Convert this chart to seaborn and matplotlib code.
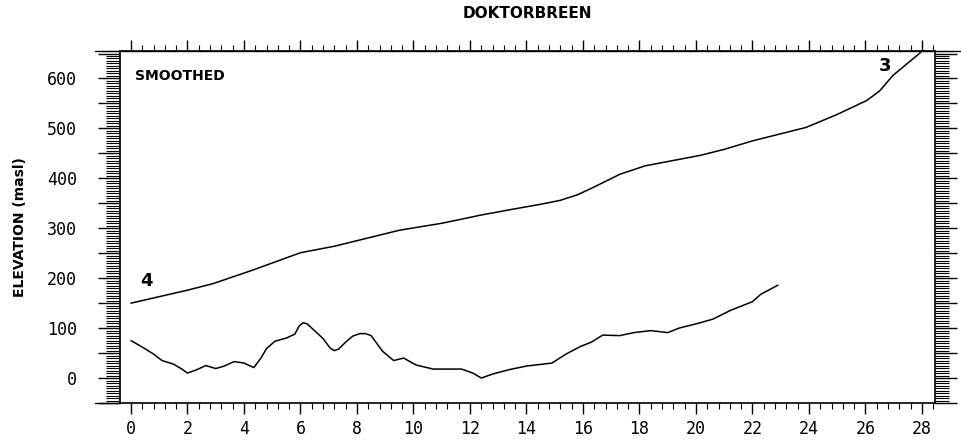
import numpy as np
import pandas as pd
import matplotlib
matplotlib.use('Agg')
import matplotlib.pyplot as plt
import seaborn as sns
from matplotlib.ticker import MultipleLocator

# profile 4 -> 3 (upper line), surface / bed along centre line
upper_km = [0, 1, 2, 2.9, 4.3, 6, 7.2, 8.35, 9.5, 11.0, 11.6, 12.35, 13.5, 14.5, 15.2,
            15.8, 16.3, 17.3, 18.2, 20.15, 21, 22, 23.9, 25, 26.05, 26.5, 26.97, 27.95]
upper_elev = [150, 163, 176, 189, 216, 251, 264, 280, 296, 310, 317, 326, 338, 348, 356,
              367, 380, 408, 425, 446, 458, 475, 502, 528, 556, 575, 606, 652]

lower_km = [0.0, 0.4, 0.8, 1.1, 1.5, 1.8, 2.0, 2.3, 2.65, 3.0, 3.3, 3.65, 4.0, 4.35,
            4.6, 4.8, 5.1, 5.5, 5.8, 5.95, 6.1, 6.25, 6.4, 6.8, 7.05, 7.2, 7.35, 7.6,
            7.85, 8.1, 8.3, 8.5, 8.9, 9.3, 9.65, 10.1, 10.7, 11.7, 12.1, 12.4, 12.8,
            13.4, 14.0, 14.9, 15.4, 15.9, 16.3, 16.7, 17.3, 17.8, 18.4, 19.0, 19.4,
            20.1, 20.6, 21.2, 22.0, 22.3, 22.9]
lower_elev = [75, 62, 48, 35, 28, 18, 10, 16, 25, 19, 24, 33, 30, 21,
              40, 59, 74, 80, 88, 104, 111, 108, 100, 79, 60, 55, 58, 72,
              84, 89, 89, 85, 54, 35, 40, 26, 18, 18, 10, 0, 8,
              17, 24, 30, 48, 63, 72, 86, 85, 91, 95, 91, 100,
              110, 118, 135, 153, 168, 186]

x_ticks = list(range(0, 30, 2))
y_ticks = [0, 100, 200, 300, 400, 500, 600]

sns.set_style('ticks')
plt.rcParams['font.family'] = ['DejaVu Sans']
plt.rcParams['text.color'] = 'black'
plt.rcParams['axes.labelcolor'] = 'black'
plt.rcParams['xtick.color'] = 'black'
plt.rcParams['ytick.color'] = 'black'

upper_df = pd.DataFrame({'km': upper_km, 'elev': upper_elev})
lower_df = pd.DataFrame({'km': lower_km, 'elev': lower_elev})

fig = plt.figure(figsize=(9.62, 4.42), dpi=100)
ax = fig.add_axes([0.1247, 0.0882, 0.8472, 0.7964])

sns.lineplot(data=upper_df, x='km', y='elev', color='black', linewidth=1.1,
             estimator=None, sort=False, ax=ax)
sns.lineplot(data=lower_df, x='km', y='elev', color='black', linewidth=1.1,
             estimator=None, sort=False, ax=ax)

ax.set_xlim(-0.39, 28.46)
ax.set_ylim(-50, 655)

# ticks, plotter style
ax.xaxis.set_minor_locator(MultipleLocator(0.4))
ax.yaxis.set_minor_locator(MultipleLocator(5))
ax.set_xticks(x_ticks)
ax.set_xticklabels([str(v) for v in x_ticks], family='DejaVu Sans Mono', fontsize=12)
ax.set_yticks([v for v in range(-50, 651, 50)])
ax.set_yticklabels([str(v) if v in y_ticks else '' for v in range(-50, 651, 50)],
                   family='DejaVu Sans Mono', fontsize=12)
ax.tick_params(axis='x', which='major', direction='out', length=8, width=1,
               top=True, bottom=True, pad=4)
ax.tick_params(axis='x', which='minor', direction='out', length=4, width=0.8,
               top=True, bottom=True)
ax.tick_params(axis='y', which='major', direction='out', length=16, width=1,
               left=True, right=True, pad=15)
ax.tick_params(axis='y', which='minor', direction='out', length=10, width=0.8,
               left=True, right=True)
for s in ax.spines.values():
    s.set_linewidth(1.2)
    s.set_color('black')

# frame lines running past the corners
ax.plot([-0.031, 0], [0, 0], transform=ax.transAxes, color='black', lw=1, clip_on=False)
ax.plot([-0.031, 1.031], [1, 1], transform=ax.transAxes, color='black', lw=1, clip_on=False)

ax.set_xlabel('')
ax.set_ylabel('ELEVATION (masl)', fontsize=10, fontweight='bold', labelpad=14)
ax.set_title('DOKTORBREEN', fontsize=11, fontweight='bold', pad=24)

ax.text(0.018, 0.93, 'SMOOTHED', transform=ax.transAxes, fontsize=10,
        fontweight='bold', va='center', ha='left')
ax.text(0.53, 194, '4', fontsize=13, fontweight='bold', ha='center', va='center')
ax.text(26.7, 624, '3', fontsize=13, fontweight='bold', ha='center', va='center')

fig.savefig('out.png', dpi=100)
plt.close(fig)
